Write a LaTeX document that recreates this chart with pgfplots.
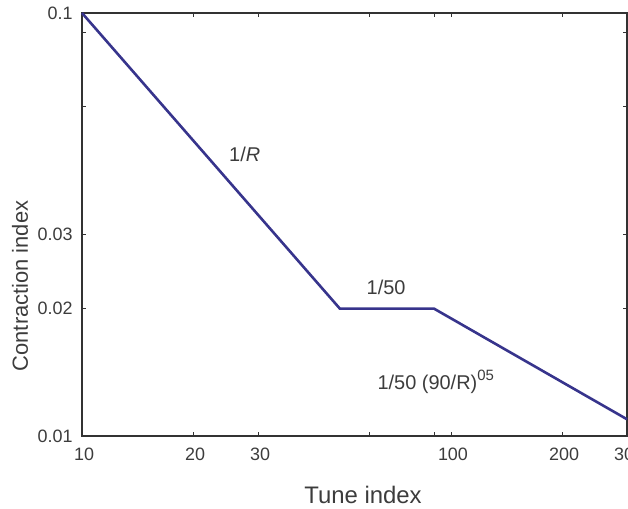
\documentclass[border=0pt]{standalone}
\usepackage{pgfplots}
\pgfplotsset{compat=1.18}
\usepackage{fontspec}
\setmainfont{Liberation Sans}
\definecolor{linecol}{RGB}{55,52,140}
\definecolor{txt}{RGB}{60,60,60}
\definecolor{axcol}{RGB}{50,50,50}
\begin{document}
\begin{tikzpicture}[x=1bp,y=1bp]
  \useasboundingbox (-82,-73) rectangle (546,436);
  \begin{axis}[
      at={(0,0)}, anchor=south west,
      scale only axis, width=545bp, height=423bp,
      xmode=log, ymode=log,
      xmin=10, xmax=300, ymin=0.01, ymax=0.1,
      xtick={10,20,30,60,90,100,200,300},
      xticklabels={10,20,30,,,100,200,300},
      ytick={0.01,0.02,0.03,0.06,0.09,0.1},
      yticklabels={0.01,0.02,0.03,,,0.1},
      minor xtick={}, minor ytick={},
      tick align=inside, major tick length=4bp,
      axis line style={draw=axcol, line width=1.2bp},
      tick style={draw=axcol, line width=0.9bp},
      ticklabel style={font=\fontsize{18}{18}\selectfont, text=txt},
      xticklabel style={yshift=-8bp, xshift=2bp},
      yticklabel style={xshift=-6bp},
      clip=false,
    ]
    \addplot[linecol, line width=2.6bp] coordinates {(10,0.1) (50,0.02) (90,0.02) (300,0.010954)};
    \node[text=txt, font=\fontsize{20}{20}\selectfont] at (axis cs:27.6,0.0462) {1/\textit{R}};
    \node[text=txt, font=\fontsize{20}{20}\selectfont] at (axis cs:66.7,0.0225) {1/50};
    \node[text=txt, font=\fontsize{20}{20}\selectfont, anchor=west] at (axis cs:61.9,0.0134) {1/50 (90/R)\raisebox{0.45em}{\fontsize{15}{15}\selectfont 05}};
  \end{axis}
  \node[text=txt, font=\fontsize{24}{24}\selectfont, inner sep=1bp] at (281,-59) {Tune index};
  \node[text=txt, font=\fontsize{22}{22}\selectfont, rotate=90] at (-62,150) {Contraction index};
\end{tikzpicture}
\end{document}
